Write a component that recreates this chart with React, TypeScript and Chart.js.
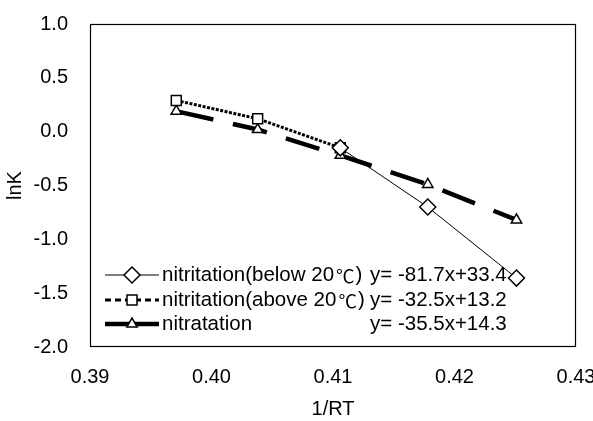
import React, { useEffect, useRef } from "react";
import { Chart, registerables } from "chart.js";

Chart.register(...registerables);

// 1/RT values (x) for each temperature point
const xBelow = [0.4106, 0.4178, 0.4251];
const yBelow = [-0.15, -0.70, -1.36];
const xAbove = [0.3971, 0.4038, 0.4106];
const yAbove = [0.29, 0.12, -0.15];
const xNitratation = [0.3971, 0.4038, 0.4106, 0.4178, 0.4251];
const yNitratation = [0.19, 0.02, -0.22, -0.49, -0.82];

const seriesNames = ["nitritation(below 20℃)", "nitritation(above 20℃)", "nitratation"];
const equations = ["y= -81.7x+33.4", "y= -32.5x+13.2", "y= -35.5x+14.3"];

const xTicks = { min: 0.39, max: 0.43, step: 0.01 };
const yTicks = { min: -2.0, max: 1.0, step: 0.5 };

const FONT = "'Liberation Sans', Arial, 'Noto Sans CJK SC', sans-serif";
const CJK = "'Noto Sans CJK SC', sans-serif";

function toPoints(xs: number[], ys: number[]) {
  return xs.map((x, i) => ({ x, y: ys[i] }));
}

function drawMarker(ctx: CanvasRenderingContext2D, kind: string, x: number, y: number) {
  ctx.save();
  ctx.setLineDash([]);
  ctx.fillStyle = "#fff";
  ctx.strokeStyle = "#000";
  ctx.lineWidth = 1.5;
  ctx.beginPath();
  if (kind === "diamond") {
    const r = 8;
    ctx.moveTo(x, y - r);
    ctx.lineTo(x + r, y);
    ctx.lineTo(x, y + r);
    ctx.lineTo(x - r, y);
    ctx.closePath();
  } else if (kind === "square") {
    const s = 5;
    ctx.rect(x - s, y - s, 2 * s, 2 * s);
  } else {
    const r = 6;
    ctx.moveTo(x, y - r);
    ctx.lineTo(x + r * Math.cos(Math.PI / 6), y + r / 2);
    ctx.lineTo(x - r * Math.cos(Math.PI / 6), y + r / 2);
    ctx.closePath();
  }
  ctx.fill();
  ctx.stroke();
  ctx.restore();
}

// draws text, rendering the ℃ sign centred in a full-width cell (as in the original)
function drawMixedText(ctx: CanvasRenderingContext2D, text: string, x: number, y: number, size: number) {
  const parts = text.split("℃");
  let cx = x;
  parts.forEach((p, i) => {
    ctx.font = `${size}px ${FONT}`;
    ctx.textAlign = "left";
    ctx.fillText(p, cx, y);
    cx += ctx.measureText(p).width;
    if (i < parts.length - 1) {
      ctx.font = `${size - 2}px ${CJK}`;
      ctx.textAlign = "center";
      ctx.fillText("℃", cx + size * 0.55, y + 1);
      cx += size * 1.05;
    }
  });
  ctx.textAlign = "left";
}

const boxAndLegend = {
  id: "boxAndLegend",
  afterDraw(chart: any) {
    const ctx: CanvasRenderingContext2D = chart.ctx;
    const a = chart.chartArea;
    ctx.save();
    ctx.strokeStyle = "#000";
    ctx.lineWidth = 1.2;
    ctx.strokeRect(a.left + 0.5, a.top + 0.5, a.right - a.left - 1, a.bottom - a.top - 1);

    const rowsY = [a.bottom - 72, a.bottom - 47, a.bottom - 23];
    const kinds = ["diamond", "square", "triangle"];
    const x0 = a.left + 15;
    const x1 = a.left + 69;
    const mx = a.left + 42;
    rowsY.forEach((y, i) => {
      ctx.save();
      ctx.strokeStyle = "#000";
      if (i === 0) {
        ctx.lineWidth = 1;
        ctx.setLineDash([]);
      } else if (i === 1) {
        ctx.lineWidth = 3;
        ctx.setLineDash([6, 4]);
      } else {
        ctx.lineWidth = 4.5;
        ctx.setLineDash([]);
      }
      ctx.beginPath();
      ctx.moveTo(x0, y);
      ctx.lineTo(x1, y);
      ctx.stroke();
      ctx.restore();
      drawMarker(ctx, kinds[i], mx, y);
      ctx.fillStyle = "#000";
      ctx.textBaseline = "middle";
      ctx.textAlign = "left";
      drawMixedText(ctx, seriesNames[i], a.left + 72, y, 20.5);
      ctx.font = `20.5px ${FONT}`;
      ctx.fillText(equations[i], a.left + 280, y);
    });
    ctx.restore();
  },
};

export default function App() {
  const ref = useRef<HTMLCanvasElement>(null);
  useEffect(() => {
    if (!ref.current) return;
    const chart = new Chart(ref.current, {
      type: "scatter",
      data: {
        datasets: [
          {
            label: seriesNames[0],
            data: toPoints(xBelow, yBelow),
            showLine: true,
            borderColor: "#000",
            borderWidth: 1,
            pointStyle: "rectRot",
            pointRadius: 8,
            pointBackgroundColor: "#fff",
            pointBorderColor: "#000",
            pointBorderWidth: 1.5,
          },
          {
            label: seriesNames[1],
            data: toPoints(xAbove, yAbove),
            showLine: true,
            borderColor: "#000",
            borderWidth: 3,
            borderDash: [3, 1.5],
            pointStyle: "rect",
            pointRadius: 7,
            pointBackgroundColor: "#fff",
            pointBorderColor: "#000",
            pointBorderWidth: 1.5,
          },
          {
            label: seriesNames[2],
            data: toPoints(xNitratation, yNitratation),
            showLine: true,
            borderColor: "#000",
            borderWidth: 4.5,
            borderDash: [35, 20],
            borderDashOffset: 52,
            pointStyle: "triangle",
            pointRadius: 6,
            pointBackgroundColor: "#fff",
            pointBorderColor: "#000",
            pointBorderWidth: 1.5,
          },
        ],
      },
      options: {
        responsive: false,
        animation: false,
        layout: { padding: { left: 0, right: 17, top: 24, bottom: 0 } },
        plugins: { legend: { display: false }, tooltip: { enabled: false } },
        scales: {
          x: {
            type: "linear",
            min: xTicks.min,
            max: xTicks.max,
            grid: { display: false, drawTicks: false },
            border: { display: false },
            ticks: {
              stepSize: xTicks.step,
              color: "#000",
              font: { size: 20, family: FONT },
              padding: 18,
              autoSkip: false,
              maxRotation: 0,
              callback: (v: any) => Number(v).toFixed(2),
            },
            title: {
              display: true,
              text: "1/RT",
              color: "#000",
              font: { size: 20, family: FONT },
              padding: { top: 0, bottom: 0 },
            },
            afterFit: (s: any) => {
              s.height = 74;
              s.paddingLeft = 0;
              s.paddingRight = 0;
            },
          },
          y: {
            type: "linear",
            min: yTicks.min,
            max: yTicks.max,
            grid: { display: false, drawTicks: false },
            border: { display: false },
            ticks: {
              stepSize: yTicks.step,
              color: "#000",
              font: { size: 20, family: FONT },
              padding: 22,
              callback: (v: any) => Number(v).toFixed(1),
            },
            title: {
              display: true,
              text: "lnK",
              color: "#000",
              font: { size: 20, family: FONT },
              padding: { top: 3, bottom: 0 },
            },
            afterFit: (s: any) => {
              s.width = 90;
              s.paddingTop = 0;
              s.paddingBottom = 0;
            },
          },
        },
      },
      plugins: [boxAndLegend],
    });
    return () => chart.destroy();
  }, []);
  return (
    <div style={{ position: "fixed", left: 0, top: 0, width: 593, height: 421, background: "#fff" }}>
      <canvas ref={ref} width={593} height={421} />
    </div>
  );
}
